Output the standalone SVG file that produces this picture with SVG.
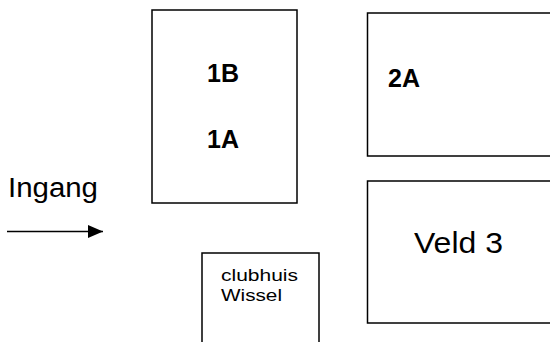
<svg xmlns="http://www.w3.org/2000/svg" width="550" height="342" viewBox="0 0 550 342">
<defs>
<style>
.box{fill:none;stroke:#000;stroke-width:1.5}
.b{font-family:"Liberation Sans",Arial,sans-serif;font-weight:bold;font-size:25px;fill:#000}
.r{font-family:"Liberation Sans",Arial,sans-serif;fill:#000}
</style>
<marker id="ah" viewBox="0 0 15 13" refX="15" refY="6.5" markerWidth="15" markerHeight="13" markerUnits="userSpaceOnUse" orient="auto">
<path d="M0,0 L15,6.5 L0,13 z" fill="#000"/>
</marker>
</defs>
<rect width="550" height="342" fill="#fff"/>
<g id="veld1">
<rect class="box" x="152" y="10" width="145" height="193"/>
<text class="b" x="223" y="82" text-anchor="middle">1B</text>
<text class="b" x="223" y="148" text-anchor="middle">1A</text>
</g>
<g id="veld2">
<rect class="box" x="367.5" y="13" width="190" height="143"/>
<text class="b" x="388" y="87">2A</text>
</g>
<g id="veld3">
<rect class="box" x="367.5" y="181" width="190" height="142"/>
<text class="r" x="414" y="253" font-size="30" textLength="89" lengthAdjust="spacingAndGlyphs">Veld 3</text>
</g>
<g id="clubhuis">
<rect class="box" x="202" y="253" width="117" height="100"/>
<text class="r" x="221" y="281" font-size="17" textLength="77" lengthAdjust="spacingAndGlyphs">clubhuis</text>
<text class="r" x="221" y="301" font-size="17" textLength="61" lengthAdjust="spacingAndGlyphs">Wissel</text>
</g>
<g id="ingang">
<text class="r" x="8" y="197" font-size="27" textLength="90" lengthAdjust="spacingAndGlyphs">Ingang</text>
</g>
<g id="connectors">
<line x1="7" y1="231.5" x2="103" y2="231.5" stroke="#000" stroke-width="1.4" marker-end="url(#ah)"/>
</g>
</svg>
